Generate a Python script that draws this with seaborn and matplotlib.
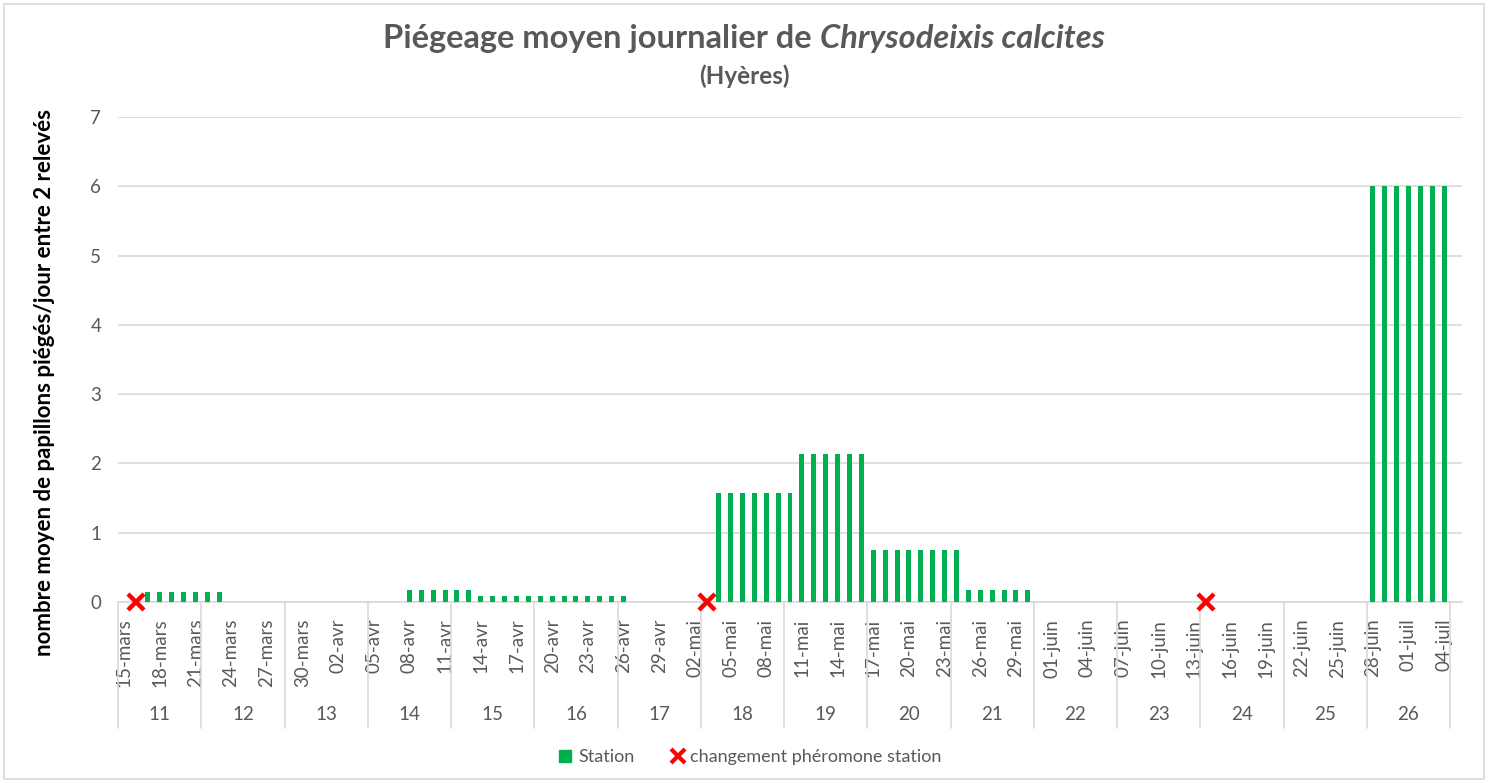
import matplotlib
matplotlib.use("Agg")
import matplotlib.pyplot as plt
import matplotlib.transforms as mtransforms
from matplotlib.lines import Line2D
from matplotlib.patches import Rectangle
import pandas as pd
import seaborn as sns

# ---------------- data ----------------
week_numbers = [11, 12, 13, 14, 15, 16, 17, 18, 19, 20, 21, 22, 23, 24, 25, 26]

# mean daily catches (one value per day, Monday..Sunday, per week)
station_w11 = [0, 0, 0.14, 0.14, 0.14, 0.14, 0.14]
station_w12 = [0.14, 0.14, 0, 0, 0, 0, 0]
station_w13 = [0, 0, 0, 0, 0, 0, 0]
station_w14 = [0, 0, 0, 0.17, 0.17, 0.17, 0.17]
station_w15 = [0.17, 0.17, 0.08, 0.08, 0.08, 0.08, 0.08]
station_w16 = [0.08, 0.08, 0.08, 0.08, 0.08, 0.08, 0.08]
station_w17 = [0.08, 0, 0, 0, 0, 0, 0]
station_w18 = [0, 1.57, 1.57, 1.57, 1.57, 1.57, 1.57]
station_w19 = [1.57, 2.14, 2.14, 2.14, 2.14, 2.14, 2.14]
station_w20 = [0.75, 0.75, 0.75, 0.75, 0.75, 0.75, 0.75]
station_w21 = [0.75, 0.17, 0.17, 0.17, 0.17, 0.17, 0.17]
station_w22 = [0, 0, 0, 0, 0, 0, 0]
station_w23 = [0, 0, 0, 0, 0, 0, 0]
station_w24 = [0, 0, 0, 0, 0, 0, 0]
station_w25 = [0, 0, 0, 0, 0, 0, 0]
station_w26 = [6, 6, 6, 6, 6, 6, 6]

# pheromone changes
change_dates = ["16-mars", "03-mai", "14-juin"]
change_values = [0, 0, 0]

tick_labels = [
    "15-mars", "18-mars", "21-mars", "24-mars", "27-mars", "30-mars", "02-avr",
    "05-avr", "08-avr", "11-avr", "14-avr", "17-avr", "20-avr", "23-avr",
    "26-avr", "29-avr", "02-mai", "05-mai", "08-mai", "11-mai", "14-mai",
    "17-mai", "20-mai", "23-mai", "26-mai", "29-mai", "01-juin", "04-juin",
    "07-juin", "10-juin", "13-juin", "16-juin", "19-juin", "22-juin",
    "25-juin", "28-juin", "01-juil", "04-juil",
]

# ---------------- build table ----------------
station = (station_w11 + station_w12 + station_w13 + station_w14 + station_w15
           + station_w16 + station_w17 + station_w18 + station_w19 + station_w20
           + station_w21 + station_w22 + station_w23 + station_w24 + station_w25
           + station_w26)
mois = {3: "mars", 4: "avr", 5: "mai", 6: "juin", 7: "juil"}
days = pd.date_range("2021-03-15", periods=len(station), freq="D")
day_labels = [f"{d.day:02d}-{mois[d.month]}" for d in days]
df = pd.DataFrame({"jour": day_labels, "station": station})

GREEN = "#00B050"
GRAY = "#595959"
GRID = "#D9D9D9"

sns.set_theme(style="white")
plt.rcParams["font.family"] = ["Lato", "DejaVu Sans"]

W, H = 1493, 783
fig = plt.figure(figsize=(W / 100, H / 100), dpi=100)
ax = fig.add_axes([118 / W, (H - 602) / H, (1462 - 118) / W, (602 - 117) / H])

sns.barplot(data=df, x="jour", y="station", color=GREEN, saturation=1,
            width=0.42, linewidth=0, errorbar=None, ax=ax, zorder=3)

pos = [day_labels.index(d) for d in change_dates]
ax.plot(pos, change_values, linestyle="none", marker="x", ms=12, mew=3.2,
        color="#FF0000", clip_on=False, zorder=6)

ax.set_xlim(-0.5, len(station) + 0.5)
ax.set_ylim(0, 7)
ax.set_yticks(range(0, 8))
ax.yaxis.grid(True, color=GRID, lw=1.2)
ax.set_axisbelow(True)
for s in ["top", "right", "left"]:
    ax.spines[s].set_visible(False)
ax.spines["bottom"].set_color(GRID)
ax.spines["bottom"].set_linewidth(1.2)

ax.set_xticks(list(range(0, len(station), 3)))
ax.set_xticklabels(tick_labels, rotation=90, ha="center", va="top")
ax.tick_params(axis="x", length=0, pad=12, labelsize=13.5, labelcolor=GRAY)
ax.tick_params(axis="y", length=0, pad=12, labelsize=13.5, labelcolor=GRAY)
ax.set_xlabel("")
ax.set_ylabel("")

# week grouping (second category level)
ax_h = (602 - 117)
trans = mtransforms.blended_transform_factory(ax.transData, ax.transAxes)
for k in range(len(week_numbers) + 1):
    ax.plot([7 * k - 0.5, 7 * k - 0.5], [0, -(728 - 602) / ax_h], color=GRID,
            lw=1.2, transform=trans, clip_on=False)
for k, wn in enumerate(week_numbers):
    ax.text(7 * k + 3, -(715 - 602) / ax_h, str(wn), transform=trans,
            ha="center", va="center", fontsize=13.5, color=GRAY)

# y label
fig.text(45 / W, (H - 383) / H, "nombre moyen de papillons piégés/jour entre 2 relevés",
         rotation=90, ha="center", va="center", fontsize=16, fontweight="bold",
         color="black")

# title with italic species name
TFS = 23.5
ty = (H - 48) / H
t1 = fig.text(0, ty, "Piégeage moyen journalier de", fontsize=TFS, fontweight="bold",
              color=GRAY, va="baseline")
t2 = fig.text(0, ty, "Chrysodeixis calcites", fontsize=TFS, fontweight="bold",
              fontstyle="italic", color=GRAY, va="baseline")
fig.canvas.draw()
r = fig.canvas.get_renderer()
w1 = t1.get_window_extent(r).width
w2 = t2.get_window_extent(r).width
gap = 0.25 * TFS * 100 / 72
total = w1 + gap + w2
x0 = 744 - total / 2
t1.set_x(x0 / W)
t2.set_x((x0 + w1 + gap) / W)
fig.text(744 / W, (H - 84) / H, "(Hyères)", fontsize=17.5, fontweight="bold",
         color=GRAY, ha="center", va="baseline")

# legend
handles = [
    Line2D([], [], linestyle="none", marker="s", ms=8, color=GREEN),
    Line2D([], [], linestyle="none", marker="x", ms=10, mew=3, color="#FF0000"),
]
fig.legend(handles, ["Station", "changement phéromone station"], loc="center",
           bbox_to_anchor=(750 / W, (H - 757) / H), ncol=2, frameon=False,
           fontsize=13, labelcolor=GRAY, handlelength=0.8, handletextpad=0.3,
           columnspacing=2.0)

# chart border
fig.add_artist(Rectangle((4 / W, 4 / H), (1484 - 4) / W, (779 - 4) / H,
                         transform=fig.transFigure, fill=False,
                         edgecolor=GRID, lw=1.2))

fig.savefig("out.png", dpi=100)
